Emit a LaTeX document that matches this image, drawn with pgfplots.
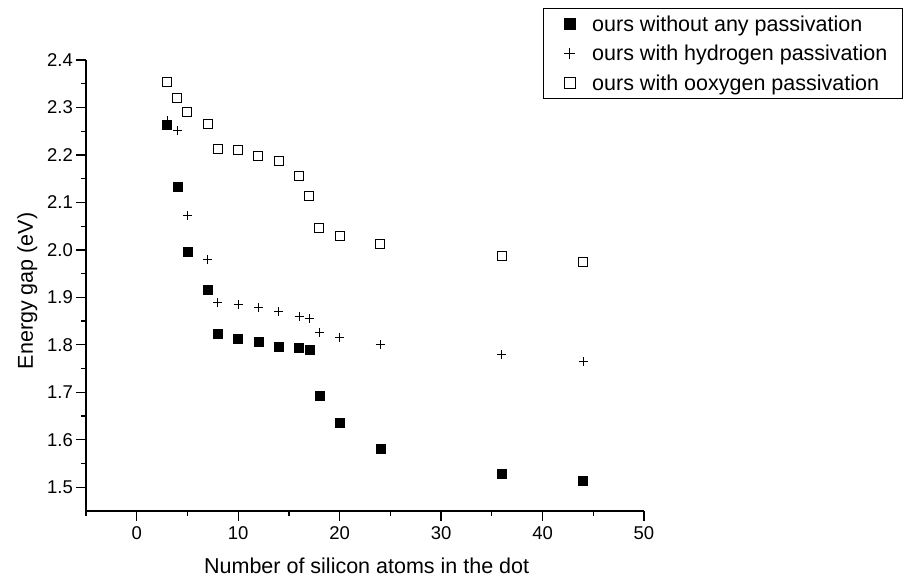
\documentclass[border=0pt]{standalone}
\usepackage{pgfplots}
\pgfplotsset{compat=1.18}
\usepackage{fontspec}
\setmainfont{Liberation Sans}
\begin{document}
\begin{tikzpicture}
\useasboundingbox (-86bp,-66bp) rectangle (821bp,511bp);
\begin{axis}[
  at={(0,0)}, anchor=south west,
  scale only axis,
  width=558bp, height=451bp,
  xmin=-5, xmax=50, ymin=1.45, ymax=2.4,
  axis x line=bottom, axis y line=left,
  axis line style={-, line width=1.5bp},
  xtick={0,10,...,50},
  minor xtick={-5,5,15,25,35,45},
  ytick={1.5,1.6,1.7,1.8,1.9,2.0,2.1,2.2,2.3,2.4},
  minor ytick={1.55,1.65,1.75,1.85,1.95,2.05,2.15,2.25,2.35},
  yticklabel style={/pgf/number format/fixed, /pgf/number format/fixed zerofill, /pgf/number format/precision=1},
  /pgf/number format/assume math mode=true,
  tick align=outside,
  major tick length=10bp, minor tick length=5bp,
  every tick/.style={black, line width=1.3bp},
  tick label style={font=\fontsize{18.5bp}{22bp}\selectfont, inner sep=0pt},
  xticklabel style={anchor=north, yshift=-5bp},
  yticklabel style={anchor=east, xshift=-3bp},
  xlabel={Number of silicon atoms in the dot},
  ylabel={Energy gap (eV)},
  every axis x label/.style={at={(axis description cs:0.503,-0.1375)}, anchor=base, font=\fontsize{21.5bp}{26bp}\selectfont},
  every axis y label/.style={at={(axis description cs:-0.095,0.488)}, anchor=base, rotate=90, font=\fontsize{21.5bp}{26bp}\selectfont},
  legend style={at={(0.8185,1.1153)}, anchor=north west, draw=black, line width=1bp,
    font=\fontsize{21.5bp}{26bp}\selectfont, row sep=8.5bp, inner xsep=13bp, inner ysep=5bp},
  legend image code/.code={\path (0bp,0bp) (33bp,0bp); \draw[#1, mark size=5.5bp] plot coordinates {(13bp,0bp)};},
  legend cell align=left,
  clip=false,
]
\addplot[only marks, mark=square*, mark size=4.5bp, mark options={fill=black, draw=black}] coordinates {
(3,2.263) (4,2.133) (5,1.996) (7,1.916) (8,1.8225) (10,1.813) (12,1.806) (14,1.796)
(16,1.793) (17,1.790) (18,1.693) (20,1.636) (24,1.582) (36,1.528) (44,1.513)};
\addlegendentry{ours without any passivation}
\addplot[only marks, mark=+, mark size=4.5bp, mark options={line width=1bp, draw=black}] coordinates {
(3,2.272) (4,2.251) (5,2.072) (7,1.980) (8,1.889) (10,1.886) (12,1.879) (14,1.870)
(16,1.860) (17,1.855) (18,1.825) (20,1.816) (24,1.800) (36,1.780) (44,1.765)};
\addlegendentry{ours with hydrogen passivation\hspace{30bp}}
\addplot[only marks, mark=square, mark size=4.5bp, mark options={line width=1bp, draw=black, fill=white}] coordinates {
(3,2.354) (4,2.320) (5,2.291) (7,2.265) (8,2.213) (10,2.211) (12,2.198) (14,2.187)
(16,2.156) (17,2.114) (18,2.046) (20,2.029) (24,2.012) (36,1.987) (44,1.974)};
\addlegendentry{ours with ooxygen passivation}
\end{axis}
\end{tikzpicture}
\end{document}
